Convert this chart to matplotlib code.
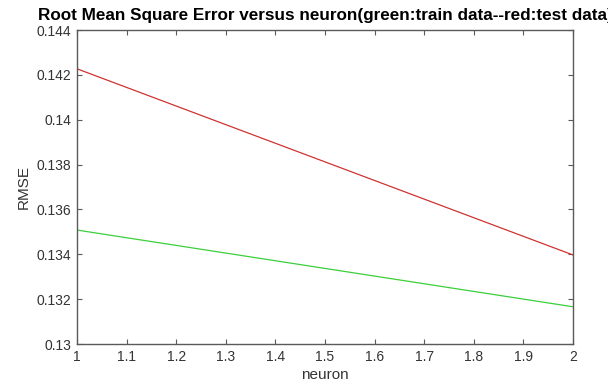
import matplotlib
matplotlib.use('Agg')
import matplotlib.pyplot as plt
import numpy as np

plt.rcParams['font.family'] = ['Liberation Sans', 'DejaVu Sans']

# RMSE per neuron count
neurons = [1, 2]
rmse_train = [0.13508, 0.13166]
rmse_test = [0.14227, 0.13397]

x_ticks = np.round(np.arange(1, 2.01, 0.1), 1)
y_ticks = [0.13, 0.132, 0.134, 0.136, 0.138, 0.14, 0.142, 0.144]
y_labels = ['0.13', '0.132', '0.134', '0.136', '0.138', '0.14', '0.142', '0.144']

fig = plt.figure(figsize=(6.08, 3.85), dpi=100)
ax = fig.add_axes([77 / 608, 41 / 385, 496 / 608, 314 / 385])

ax.plot(neurons, rmse_train, color='#3ccf3c', lw=0.9)
ax.plot(neurons, rmse_test, color='#cc3333', lw=0.9)

ax.set_xlim(1, 2)
ax.set_ylim(0.13, 0.144)
ax.set_xticks(x_ticks)
ax.set_xticklabels([f'{v:g}' for v in x_ticks])
ax.set_yticks(y_ticks)
ax.set_yticklabels(y_labels)

axis_grey = '#333333'
for s in ax.spines.values():
    s.set_color('#5a5a5a')
    s.set_linewidth(1.0)
ax.tick_params(direction='in', top=True, right=True, length=3.5, width=0.8,
               color='#5a5a5a', labelsize=10, labelcolor=axis_grey, pad=4)

ax.set_xlabel('neuron', fontsize=11, color=axis_grey, labelpad=3)
ax.set_ylabel('RMSE', fontsize=11, color=axis_grey, labelpad=4)
ax.set_title('Root Mean Square Error versus neuron(green:train data--red:test data)',
             fontsize=12.3, fontweight='bold', color='black', pad=7)

fig.savefig('out.png', dpi=100, facecolor='white')
